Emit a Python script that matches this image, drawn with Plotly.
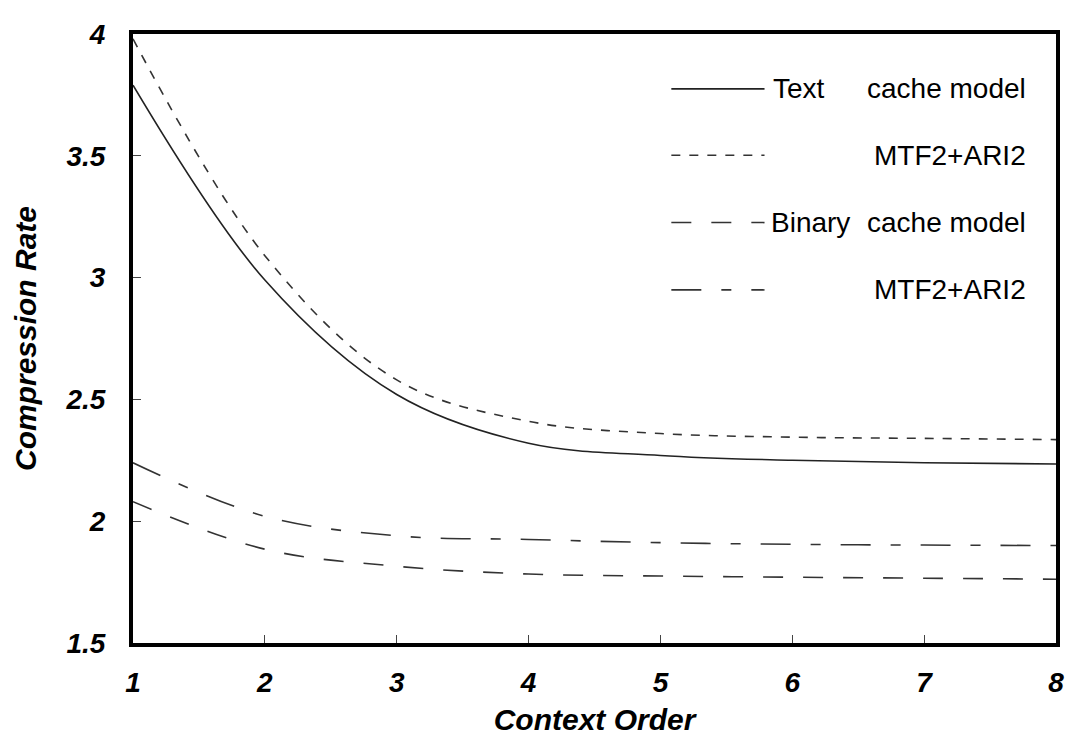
import plotly.graph_objects as go

# ---- data ----
context_order = [1, 2, 3, 4, 5, 6, 7, 8]
text_cache = [3.79, 2.99, 2.52, 2.32, 2.27, 2.25, 2.24, 2.235]
text_mtf = [3.98, 3.09, 2.58, 2.41, 2.36, 2.345, 2.34, 2.335]
binary_cache = [2.08, 1.885, 1.815, 1.783, 1.775, 1.77, 1.766, 1.762]
binary_mtf = [2.24, 2.02, 1.94, 1.925, 1.912, 1.905, 1.902, 1.90]

x_ticks = [1, 2, 3, 4, 5, 6, 7, 8]
y_ticks = [1.5, 2, 2.5, 3, 3.5, 4]
y_tick_text = ["1.5", "2", "2.5", "3", "3.5", "4"]

legend_left = ["Text", "", "Binary", ""]
legend_right = ["cache model", "MTF2+ARI2", "cache model", "MTF2+ARI2"]

FONT = "Arial, Liberation Sans, sans-serif"
OFF = 8  # default page body margin
W, H = 1075 - OFF, 743 - OFF
# desired plot box in page pixels: left 133, right 1064, top 20, bottom 653
L, T = 133 - OFF, 20 - OFF
R = W - (1064 - OFF)
B = H - (653 - OFF)
PW, PH = W - L - R, H - T - B

series = [
    (text_cache, "solid", "#222222"),
    (text_mtf, "9px,9px", "#333333"),
    (binary_cache, "20px,20px", "#333333"),
    (binary_mtf, "30px,20px,10px,20px", "#333333"),
]

fig = go.Figure()
for ys, dash, col in series:
    fig.add_trace(go.Scatter(
        x=context_order, y=ys, mode="lines",
        line=dict(color=col, width=1.6, dash=dash, shape="spline", smoothing=1.0),
        showlegend=False, hoverinfo="skip",
    ))

def px2paper_x(px):
    return (px - OFF - L) / PW

def px2paper_y(py):
    return (H - B - (py - OFF)) / PH

shapes = []
annotations = []
row_y = [77, 146, 216, 286]
left_x = [777, 777, 775, 775]
for i, (ys, dash, col) in enumerate(series):
    yy = px2paper_y(row_y[i])
    shapes.append(dict(type="line", xref="paper", yref="paper",
                       x0=px2paper_x(676), x1=px2paper_x(770), y0=yy, y1=yy,
                       line=dict(color=col, width=1.6, dash=dash)))
    if legend_left[i]:
        annotations.append(dict(xref="paper", yref="paper", x=px2paper_x(left_x[i]), y=yy,
                                text=legend_left[i], showarrow=False,
                                xanchor="left", yanchor="middle",
                                font=dict(family=FONT, size=28, color="black")))
    annotations.append(dict(xref="paper", yref="paper", x=px2paper_x(1036), y=yy,
                            text=legend_right[i], showarrow=False,
                            xanchor="right", yanchor="middle",
                            font=dict(family=FONT, size=28, color="black")))

fig.update_layout(
    width=W, height=H,
    margin=dict(l=L, r=R, t=T, b=B, pad=0),
    paper_bgcolor="white", plot_bgcolor="white",
    shapes=shapes, annotations=annotations,
    xaxis=dict(
        range=[1, 8], tickvals=x_ticks, ticks="inside", ticklen=8, tickwidth=1,
        tickcolor="#444", showgrid=False, zeroline=False,
        showline=True, linecolor="black", linewidth=4, mirror=True,
        tickfont=dict(family=FONT, size=28, color="black", weight="bold", style="italic"),
        ticklabelstandoff=11, ticklabeloverflow="allow",
        title=dict(text="Context Order", standoff=13,
                   font=dict(family=FONT, size=30, color="black", weight="bold", style="italic")),
    ),
    yaxis=dict(
        range=[1.5, 4], tickvals=y_ticks, ticktext=y_tick_text, ticks="inside", ticklen=8,
        tickwidth=1, tickcolor="#444", showgrid=False, zeroline=False,
        showline=True, linecolor="black", linewidth=4, mirror=True,
        tickfont=dict(family=FONT, size=28, color="black", weight="bold", style="italic"),
        ticklabelstandoff=18, ticklabeloverflow="allow",
        title=dict(text="Compression Rate", standoff=21,
                   font=dict(family=FONT, size=30, color="black", weight="bold", style="italic")),
    ),
)

fig.write_html("out.html")
